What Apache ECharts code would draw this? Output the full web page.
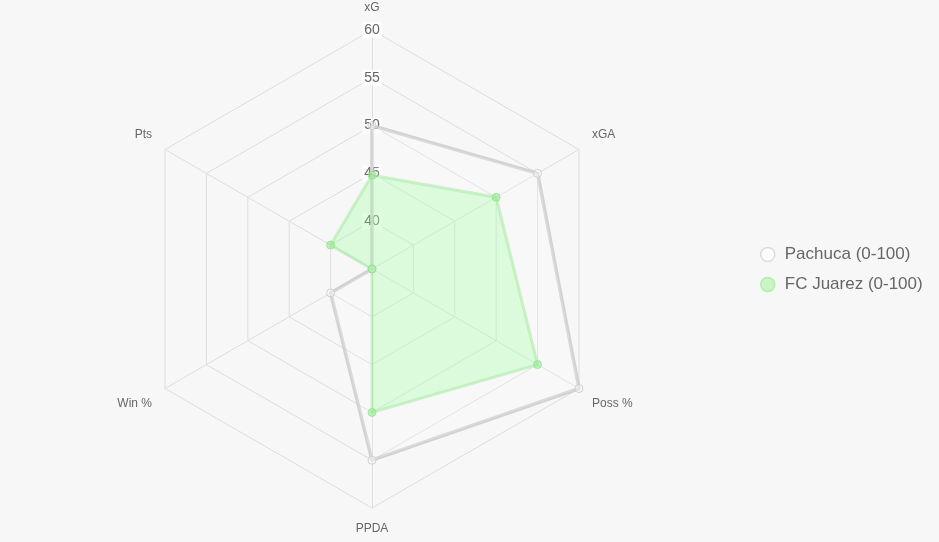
<!DOCTYPE html>
<html>
<head>
<meta charset="utf-8">
<script src="https://cdn.jsdelivr.net/npm/echarts@6/dist/echarts.min.js"></script>
<style>
  html, body { margin: 0; padding: 0; background: #f7f7f7; }
  #chart { width: 939px; height: 542px; }
</style>
</head>
<body>
<div id="chart"></div>
<script>
// axes of the radar, counter-clockwise from the top (echarts goes that way)
var indicators = ['xG', 'Pts', 'Win %', 'PPDA', 'Poss %', 'xGA'];
var pachuca = [50, 35, 40, 55, 60, 55];
var juarez = [44.8, 40, 35, 50, 55, 50];
var scaleMin = 35;
var scaleMax = 60;

var FONT = "'Liberation Sans', Arial, Helvetica, sans-serif";

var chart = echarts.init(document.getElementById('chart'));

chart.setOption({
  backgroundColor: '#f7f7f7',
  animation: false,
  legend: {
    orient: 'vertical',
    left: 755,
    top: 241,
    itemWidth: 14,
    itemHeight: 14,
    itemGap: 13,
    icon: 'circle',
    textStyle: {
      color: '#666',
      fontSize: 17,
      fontFamily: FONT,
      padding: [0, 0, 0, 5]
    },
    data: [
      { name: 'Pachuca (0-100)', itemStyle: { color: 'rgba(255,255,255,0.6)', borderColor: '#dcdcdc', borderWidth: 1.5 } },
      { name: 'FC Juarez (0-100)', itemStyle: { color: '#c9f5c4', borderColor: '#b5ecb0', borderWidth: 1.5 } }
    ]
  },
  radar: {
    center: [372, 269],
    radius: 239,
    startAngle: 90,
    shape: 'polygon',
    splitNumber: 5,
    nameGap: 15,
    axisName: {
      color: '#666',
      fontSize: 12,
      fontFamily: FONT,
      // push the side names up / down a little
      formatter: function (name) {
        if (name === 'Pts' || name === 'xGA') return name + '\n{s|}';
        if (name === 'Win %' || name === 'Poss %') return '{t|}\n' + name;
        if (name === 'xG') return name + '\n{u|}';
        return name;
      },
      rich: {
        s: { lineHeight: 14, fontSize: 1 },
        t: { lineHeight: 16, fontSize: 1 },
        u: { lineHeight: 1, fontSize: 1 }
      }
    },
    axisLine: { lineStyle: { color: '#dedede', width: 1 } },
    splitLine: { lineStyle: { color: '#dedede', width: 1 } },
    splitArea: { show: false },
    axisTick: { show: false },
    axisLabel: { show: false },
    indicator: indicators.map(function (n, i) {
      var ind = { name: n, min: scaleMin, max: scaleMax };
      if (i === 0) {
        // tick values only on the first axis
        ind.axisLabel = {
          show: true,
          color: '#666',
          fontSize: 14,
          fontFamily: FONT,
          margin: 0,
          align: 'center',
          verticalAlign: 'middle',
          backgroundColor: 'rgba(255,255,255,0.75)',
          padding: [1, 2],
          formatter: function (v) { return v === scaleMin ? '' : String(v); }
        };
      }
      return ind;
    })
  },
  series: [{
    type: 'radar',
    symbol: 'circle',
    symbolSize: 8,
    z: 2,
    data: [
      {
        name: 'Pachuca (0-100)',
        value: pachuca,
        lineStyle: { color: 'rgba(200,200,200,0.8)', width: 3.5 },
        itemStyle: { color: 'rgba(255,255,255,0.4)', borderColor: '#d0d0d0', borderWidth: 1 },
        areaStyle: { color: 'rgba(255,255,255,0.25)' }
      },
      {
        name: 'FC Juarez (0-100)',
        value: juarez,
        lineStyle: { color: 'rgba(165,230,160,0.5)', width: 3 },
        itemStyle: { color: 'rgba(150,235,145,0.6)', borderColor: 'rgba(140,225,135,0.7)', borderWidth: 1 },
        areaStyle: { color: 'rgba(144,255,144,0.38)' }
      }
    ]
  }]
});
</script>
</body>
</html>
